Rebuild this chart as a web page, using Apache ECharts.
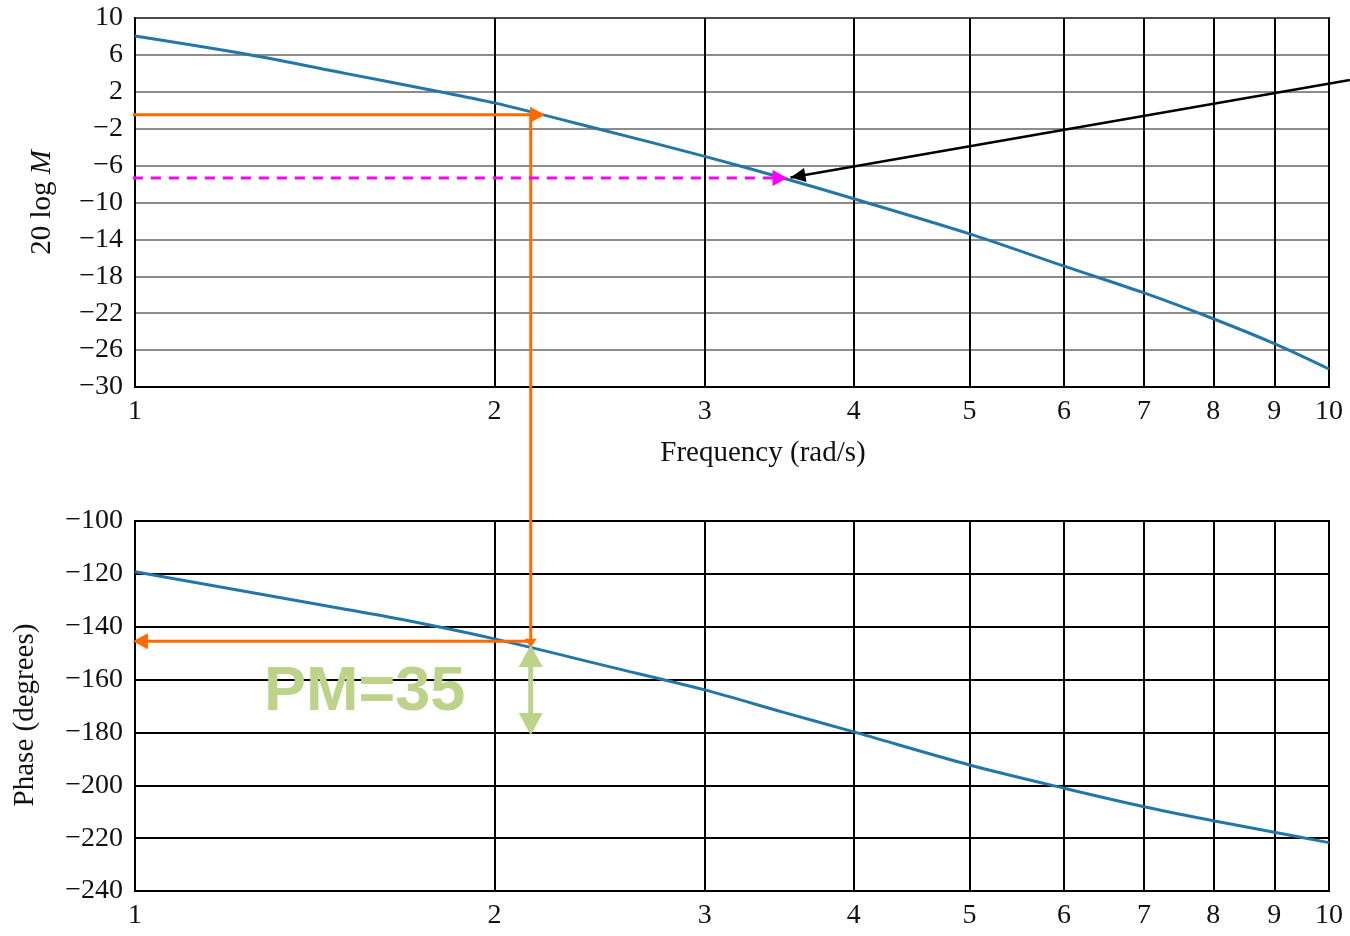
<!DOCTYPE html>
<html>
<head>
<meta charset="utf-8">
<script src="https://cdn.jsdelivr.net/npm/echarts@6/dist/echarts.min.js"></script>
<style>
  html, body { margin: 0; padding: 0; background: #fff; }
  #main { width: 1350px; height: 936px; }
</style>
</head>
<body>
<div id="main"></div>
<script>
// frequency ticks of the log axis (rad/s)
var freqTicks = [1, 2, 3, 4, 5, 6, 7, 8, 9, 10];
var magTicks = [-30, -26, -22, -18, -14, -10, -6, -2, 2, 6, 10];

// magnitude curve
var freqMag = [1, 1.25, 1.5, 1.8, 2, 2.44, 3, 3.5, 4, 5, 6, 7, 8, 9, 10];
var magDb = [8.05, 6.0, 4.0, 2.0, 0.8, -2.0, -5.0, -7.4, -9.6, -13.4, -16.9, -19.8, -22.6, -25.3, -28.05];

// phase curve
var freqPhase = [1, 1.5, 1.67, 2, 2.5, 3, 3.5, 4, 5, 6, 7, 8, 9, 10];
var phaseDeg = [-119.2, -133.4, -137.2, -144.6, -155.2, -163.9, -172.5, -179.8, -192.3, -201.1, -208.1, -213.4, -217.8, -221.7];

// annotation values
var crossFreq = 2.145;     // gain crossover
var crossMag = -0.5;
var crossPhase = -145.5;
var pmText = 'PM=35';
var dashMag = -7.35;
var dashFreq = 3.52;

var myChart = echarts.init(document.getElementById('main'));

var serif = '"Liberation Serif", "DejaVu Serif", serif';
var minus = function (v) { return String(v).replace('-', '\u2212'); };
var logTicks = freqTicks.map(function (f) { return Math.log10(f); });

function xAxisOf(grid, name) {
    return {
        type: 'value', gridIndex: grid, min: 0, max: 1,
        name: name, nameLocation: 'middle', nameGap: 52,
        nameTextStyle: { fontFamily: serif, fontSize: 29, color: '#111', padding: [0, 0, 0, 62] },
        axisLine: { onZero: false, lineStyle: { color: '#000', width: 2 } },
        axisTick: { show: false, customValues: logTicks },
        axisLabel: {
            customValues: logTicks, margin: 11,
            fontFamily: serif, fontSize: 28, color: '#111',
            formatter: function (v) { return Math.round(Math.pow(10, v)); }
        },
        splitLine: { show: true, lineStyle: { color: '#000', width: 2 } }
    };
}

var option = {
    animation: false,
    backgroundColor: '#fff',
    grid: [
        { left: 135, right: 21, top: 18, height: 369, outerBoundsMode: 'none', containLabel: false,
          show: true, borderColor: '#000', borderWidth: 2 },
        { left: 135, right: 21, top: 521, height: 370, outerBoundsMode: 'none', containLabel: false,
          show: true, borderColor: '#000', borderWidth: 2 }
    ],
    xAxis: [xAxisOf(0, 'Frequency (rad/s)'), xAxisOf(1, '')],
    yAxis: [{
        type: 'value', gridIndex: 0, min: -30, max: 10,
        name: '{n|20 log }{i|M}', nameLocation: 'middle', nameGap: 78,
        nameTextStyle: {
            rich: {
                n: { fontFamily: serif, fontSize: 29, color: '#111' },
                i: { fontFamily: serif, fontSize: 29, fontStyle: 'italic', color: '#111' }
            }
        },
        axisLine: { show: true, onZero: false, lineStyle: { color: '#000', width: 2 } },
        axisTick: { show: false, customValues: magTicks },
        axisLabel: { customValues: magTicks, margin: 12, fontFamily: serif, fontSize: 28, color: '#111', formatter: minus },
        splitLine: { lineStyle: { color: '#666', width: 1.5 } }
    }, {
        type: 'value', gridIndex: 1, min: -240, max: -100, interval: 20,
        name: 'Phase (degrees)', nameLocation: 'middle', nameGap: 95,
        nameTextStyle: { fontFamily: serif, fontSize: 29, color: '#111', padding: [0, 18, 0, 0] },
        axisLine: { show: true, onZero: false, lineStyle: { color: '#000', width: 2 } },
        axisTick: { show: false },
        axisLabel: { margin: 12, fontFamily: serif, fontSize: 28, color: '#111', formatter: minus },
        splitLine: { lineStyle: { color: '#000', width: 2 } }
    }],
    series: [{
        type: 'line', xAxisIndex: 0, yAxisIndex: 0,
        data: freqMag.map(function (f, i) { return [Math.log10(f), magDb[i]]; }),
        smooth: 0.3, symbol: 'none',
        lineStyle: { color: '#2277a8', width: 3 }
    }, {
        type: 'line', xAxisIndex: 1, yAxisIndex: 1,
        data: freqPhase.map(function (f, i) { return [Math.log10(f), phaseDeg[i]]; }),
        smooth: 0.3, symbol: 'none',
        lineStyle: { color: '#2277a8', width: 3 }
    }]
};
myChart.setOption(option);

// annotations drawn with the chart's own coordinate conversion
function px(grid, f, v) {
    return myChart.convertToPixel({ gridIndex: grid }, [Math.log10(f), v]);
}
function head(from, tip, len, half, color) {
    var dx = tip[0] - from[0], dy = tip[1] - from[1];
    var d = Math.sqrt(dx * dx + dy * dy);
    dx /= d; dy /= d;
    var bx = tip[0] - dx * len, by = tip[1] - dy * len;
    return {
        type: 'polygon', z: 100,
        shape: { points: [tip, [bx - dy * half, by + dx * half], [bx + dy * half, by - dx * half]] },
        style: { fill: color }
    };
}
function seg(a, b, color, width, dash) {
    return {
        type: 'line', z: 99,
        shape: { x1: a[0], y1: a[1], x2: b[0], y2: b[1] },
        style: { stroke: color, lineWidth: width, lineDash: dash || null }
    };
}

var orange = '#ff6a00', magenta = '#ff00ff', green = '#bcd389';
var g = [];

// orange: gain crossover to the magnitude curve
var a1 = px(0, 0.996, crossMag), a2 = px(0, 2.205, crossMag);
g.push(seg(a1, [a2[0] - 10, a2[1]], orange, 3));
g.push(head(a1, a2, 15, 8, orange));

// orange: down to the phase curve
var v1 = px(0, crossFreq, crossMag), v2 = px(1, crossFreq, -148);
g.push(seg(v1, [v2[0], v2[1] - 6], orange, 3));
g.push(head(v1, v2, 9, 6, orange));

// orange: phase read-off to the left
var h1 = px(1, crossFreq, crossPhase), h2 = px(1, 0.996, crossPhase);
g.push(seg(h1, [h2[0] + 10, h2[1]], orange, 3));
g.push(head(h1, h2, 15, 8, orange));

// magenta dashed line
var m1 = px(0, 0.996, dashMag), m2 = px(0, dashFreq, dashMag);
g.push(seg(m1, [m2[0] - 10, m2[1]], magenta, 3, [10, 8]));
g.push(head(m1, m2, 15, 8, magenta));

// black pointer coming in from the right edge
var k1 = px(0, 10.41, 3.28), k2 = px(0, 3.54, -7.3);
g.push(seg(k1, k2, '#000', 2.5));
g.push(head(k1, k2, 15, 7, '#000'));

// green double arrow for the phase margin
var p1 = px(1, crossFreq, -146.9), p2 = px(1, crossFreq, -181);
g.push(seg([p1[0], p1[1] + 18], [p2[0], p2[1] - 18], green, 5));
g.push(head(p2, p1, 22, 12, green));
g.push(head(p1, p2, 22, 12, green));

var tp = px(1, 1.557, -165.1);
g.push({
    type: 'text', z: 101, x: tp[0], y: tp[1],
    style: {
        text: pmText, fill: green, align: 'center', verticalAlign: 'middle',
        font: 'bold 63px "Liberation Sans", Arial, sans-serif'
    }
});

myChart.setOption({ graphic: g });
</script>
</body>
</html>
